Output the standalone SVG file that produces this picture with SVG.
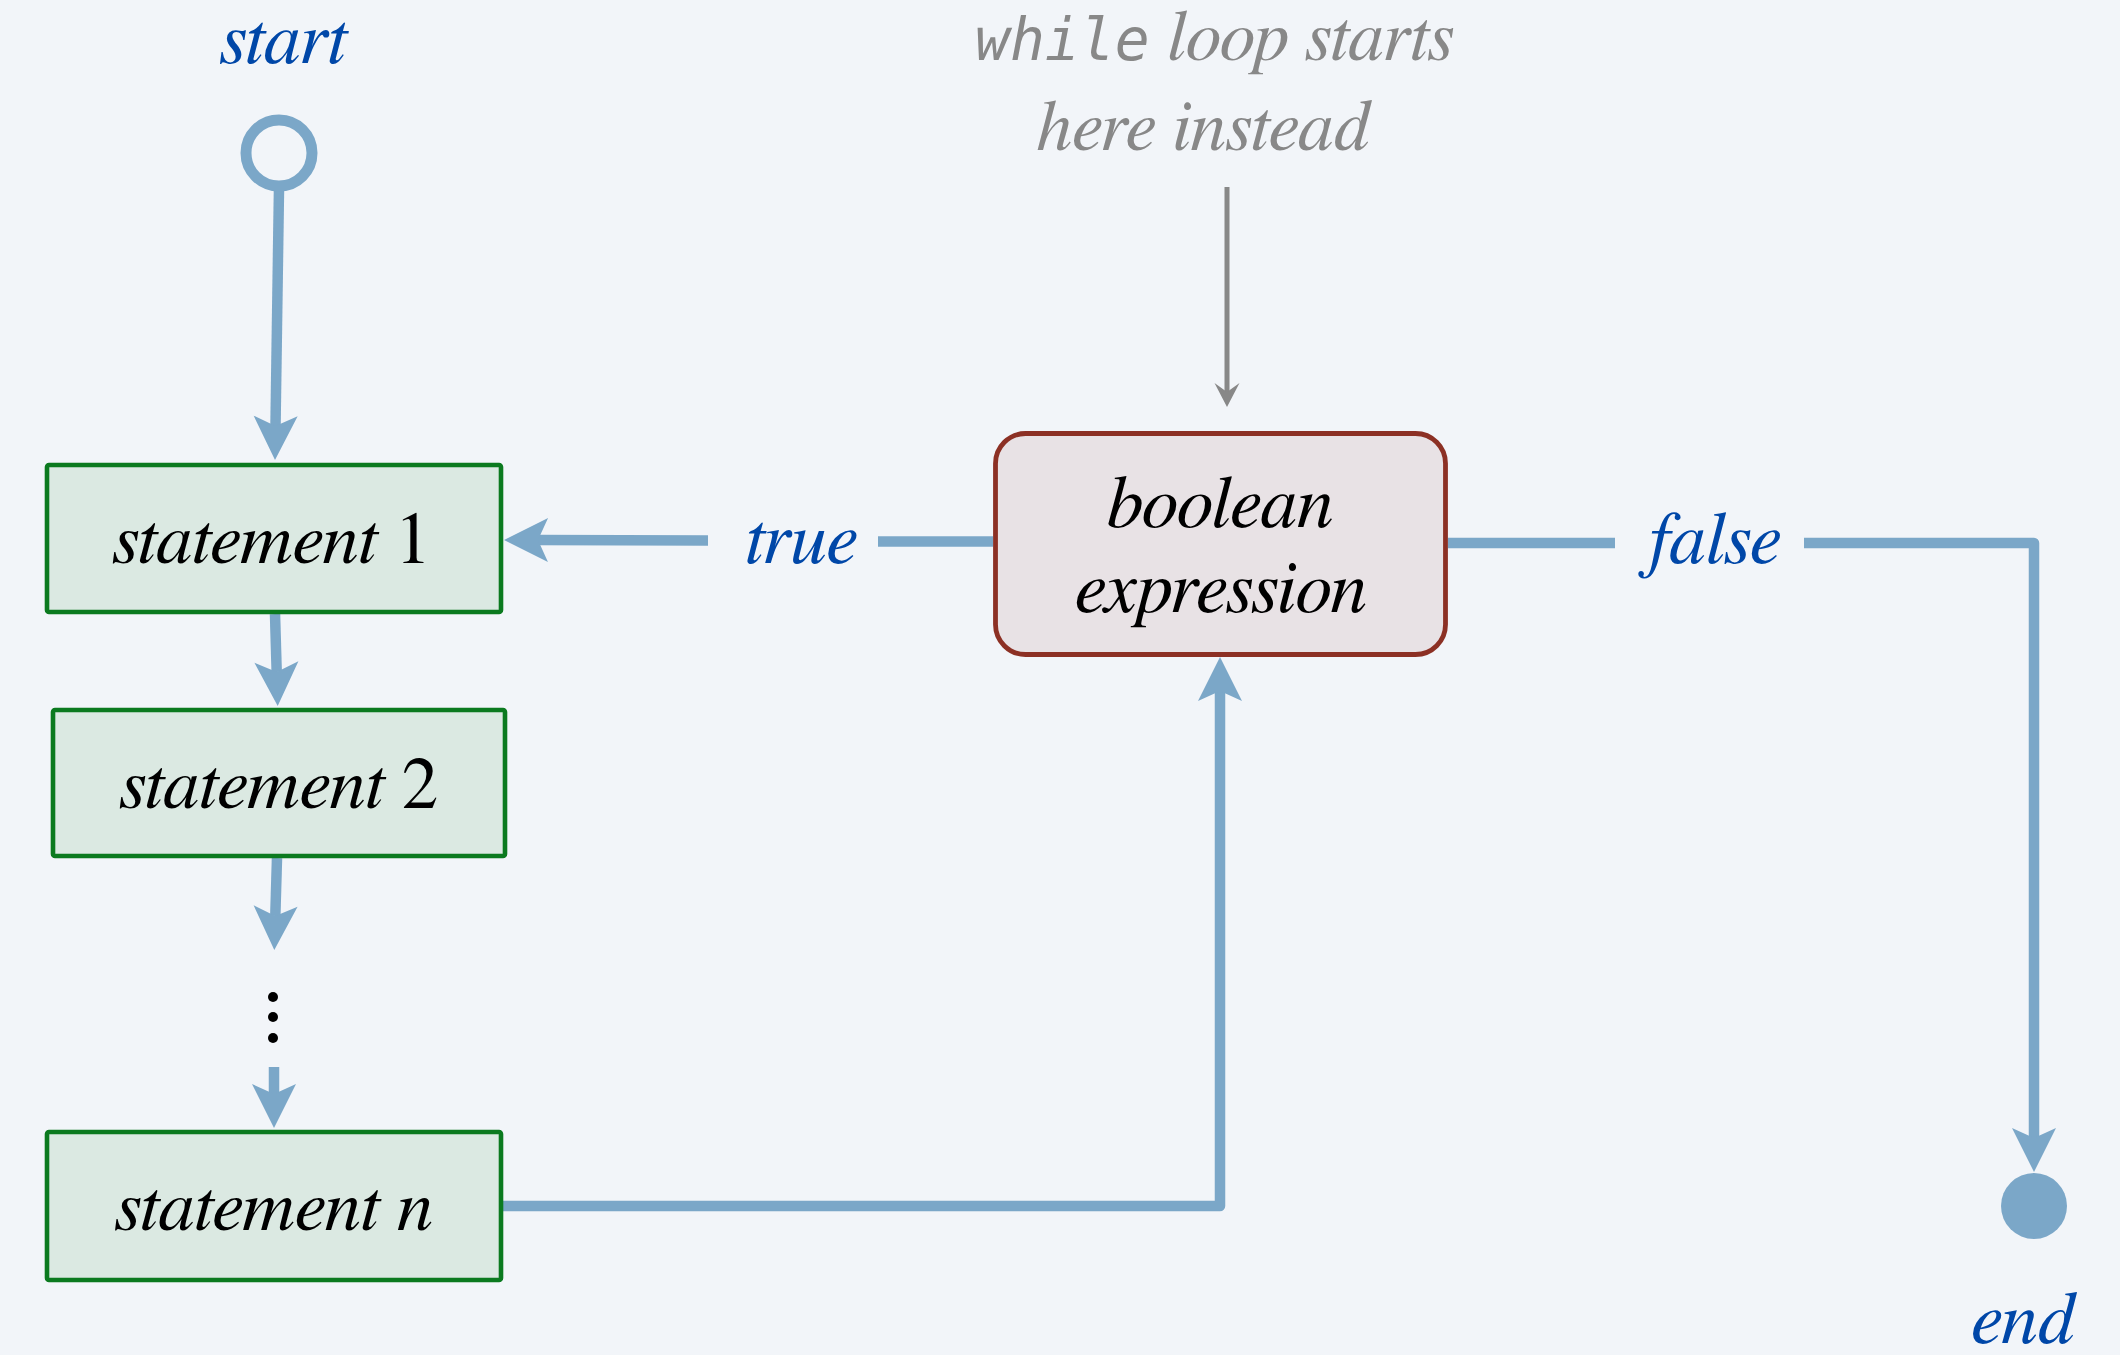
<svg xmlns="http://www.w3.org/2000/svg" width="2120" height="1355" viewBox="0 0 2120 1355">
  <style>
    .serif { font-family: FreeSerif, "Liberation Serif", serif; font-style: italic; }
    .label { font-size: 74px; fill: #0047a8; }
    .node-text { font-size: 74px; fill: #000; }
    .stmt-text { font-size: 73px; }
    .note { font-size: 72px; fill: #888; }
    .mono { font-family: "DejaVu Sans Mono", "Liberation Mono", monospace; font-style: oblique; font-size: 58px; }
    .upright { font-style: normal; }
    .stmt { fill: #dbe9e2; stroke: #0b7a1f; stroke-width: 4.6; }
    .cond { fill: #e8e2e5; stroke: #8c3024; stroke-width: 4.8; }
    .flow { fill: none; stroke: #7ba7c8; stroke-width: 10.5; stroke-linejoin: round; }
    .hint { fill: none; stroke: #888; stroke-width: 5; }
  </style>
  <defs>
    <marker id="arrow" markerUnits="userSpaceOnUse" viewBox="-10 -22 44 44" markerWidth="44" markerHeight="44" refX="0" refY="0" orient="auto" overflow="visible">
      <path d="M34,0 L-10,-22 L0,0 L-10,22 Z" fill="#7ba7c8"/>
    </marker>
    <marker id="arrow-grey" markerUnits="userSpaceOnUse" viewBox="-9 -13 24 26" markerWidth="24" markerHeight="26" refX="0" refY="0" orient="auto" overflow="visible">
      <path d="M15,0 L-9,-12.5 L0,0 L-9,12.5 Z" fill="#888"/>
    </marker>
  </defs>

  <rect x="0" y="0" width="2120" height="1355" fill="#f2f5f9"/>

  <!-- connectors -->
  <g id="connectors">
    <line class="flow" x1="279" y1="188" x2="275.5" y2="426" marker-end="url(#arrow)"/>
    <line class="flow" x1="275" y1="614" x2="276.7" y2="672" marker-end="url(#arrow)"/>
    <line class="flow" x1="277" y1="858" x2="275.3" y2="916" marker-end="url(#arrow)"/>
    <line class="flow" x1="274" y1="1067" x2="274" y2="1094" marker-end="url(#arrow)"/>
    <line class="flow" x1="708" y1="540.5" x2="538" y2="540" marker-end="url(#arrow)"/>
    <line class="flow" x1="993" y1="541.5" x2="878" y2="541.5"/>
    <path class="flow" d="M503,1206 H1220 V691" marker-end="url(#arrow)"/>
    <line class="flow" x1="1448" y1="543" x2="1615" y2="543"/>
    <path class="flow" d="M1804,543 H2034 V1138" marker-end="url(#arrow)"/>
    <line class="hint" x1="1227" y1="187" x2="1227" y2="392" marker-end="url(#arrow-grey)"/>
  </g>

  <!-- edge labels and annotations -->
  <g id="labels">
    <text class="serif label" x="801" y="563" text-anchor="middle">true</text>
    <text class="serif label" x="1712" y="563" text-anchor="middle">false</text>
    <text class="serif note" x="975" y="60"><tspan class="mono">while</tspan> loop starts</text>
    <text class="serif note" x="1203" y="150" text-anchor="middle">here instead</text>
  </g>

  <g id="start">
    <text class="serif label" x="283" y="63" text-anchor="middle">start</text>
    <circle cx="279" cy="153" r="33" fill="none" stroke="#7ba7c8" stroke-width="11"/>
  </g>

  <g id="statement-1">
    <rect class="stmt" x="47" y="465" width="454" height="147" rx="2"/>
    <text class="serif node-text stmt-text" x="272" y="563" text-anchor="middle">statement <tspan class="upright">1</tspan></text>
  </g>

  <g id="statement-2">
    <rect class="stmt" x="53" y="710" width="452" height="146" rx="2"/>
    <text class="serif node-text stmt-text" x="279" y="808" text-anchor="middle">statement <tspan class="upright">2</tspan></text>
  </g>

  <g id="ellipsis">
    <circle cx="273" cy="997" r="5" fill="#000"/>
    <circle cx="273" cy="1017" r="5" fill="#000"/>
    <circle cx="273" cy="1038" r="5" fill="#000"/>
  </g>

  <g id="statement-n">
    <rect class="stmt" x="47" y="1132" width="454" height="148" rx="2"/>
    <text class="serif node-text stmt-text" x="274" y="1230" text-anchor="middle">statement n</text>
  </g>

  <g id="condition">
    <rect class="cond" x="995.5" y="433.5" width="450" height="221" rx="30"/>
    <text class="serif node-text" x="1220" y="527" text-anchor="middle">boolean</text>
    <text class="serif node-text" x="1221" y="612" text-anchor="middle">expression</text>
  </g>

  <g id="end">
    <circle cx="2034" cy="1206" r="33" fill="#7ba7c8"/>
    <text class="serif label" x="2023" y="1343" text-anchor="middle">end</text>
  </g>
</svg>
